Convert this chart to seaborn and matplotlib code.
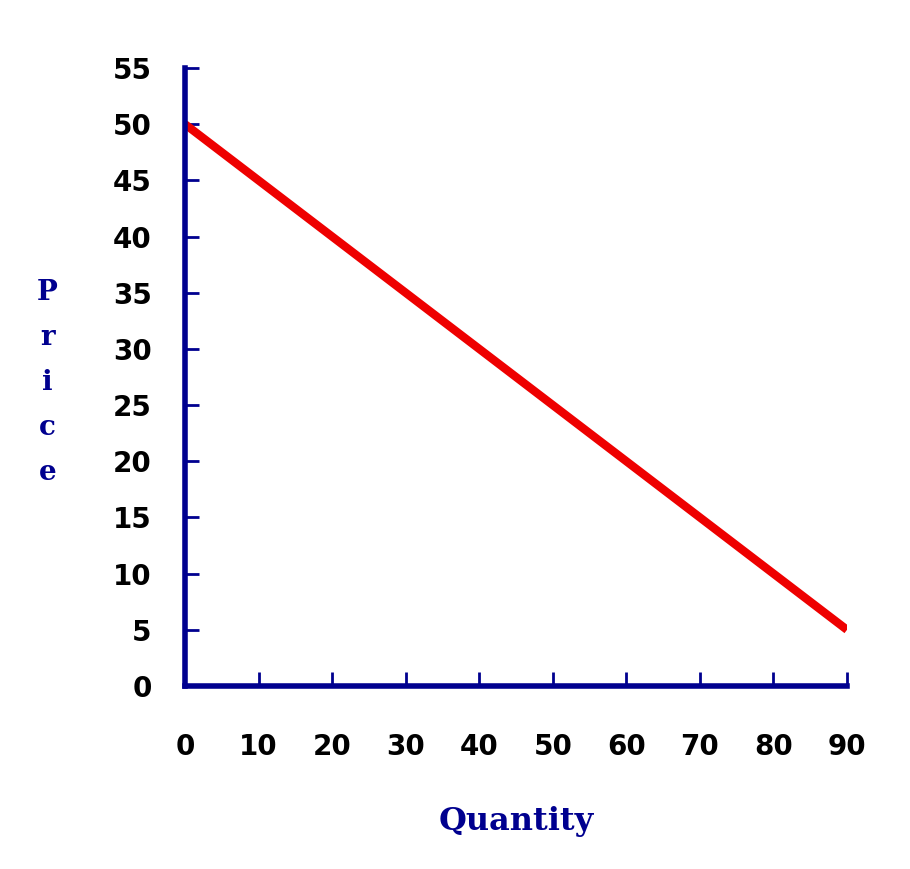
import numpy as np
import pandas as pd
import seaborn as sns
import matplotlib.pyplot as plt

# demand line end points
quantity = [0, 90]
price = [50, 5]
x_ticks = [0, 10, 20, 30, 40, 50, 60, 70, 80, 90]
y_ticks = [0, 5, 10, 15, 20, 25, 30, 35, 40, 45, 50, 55]

df = pd.DataFrame({'Quantity': quantity, 'Price': price})

sns.set_theme(style="white")
navy = '#00008f'

fig = plt.figure(figsize=(9.1, 8.69), dpi=100)
ax = fig.add_axes([0.2033, 0.2106, 0.7275, 0.7111])

sns.lineplot(data=df, x='Quantity', y='Price', ax=ax, color='#ee0000',
             linewidth=6, solid_capstyle='butt')

ax.set_xlim(0, 90)
ax.set_ylim(0, 55)
ax.set_xticks(x_ticks)
ax.set_yticks(y_ticks)

for side in ['top', 'right']:
    ax.spines[side].set_visible(False)
for side in ['left', 'bottom']:
    ax.spines[side].set_color(navy)
    ax.spines[side].set_linewidth(4)
    ax.spines[side].set_capstyle('projecting')

ax.tick_params(axis='both', direction='in', length=10, width=2, color=navy,
               labelsize=20, labelcolor='black', bottom=True, left=True)
ax.tick_params(axis='x', pad=34)
ax.tick_params(axis='y', pad=24)
for lab in ax.get_xticklabels() + ax.get_yticklabels():
    lab.set_fontweight('bold')

ax.set_xlabel('Quantity', fontsize=23, fontweight='bold', color=navy,
              family='DejaVu Serif', labelpad=32)
ax.set_ylabel('')
fig.text(0.052, 0.56, 'P\nr\ni\nc\ne', fontsize=20, fontweight='bold', color=navy,
         family='DejaVu Serif', ha='center', va='center', linespacing=1.85)

fig.savefig('out.png', dpi=100)
